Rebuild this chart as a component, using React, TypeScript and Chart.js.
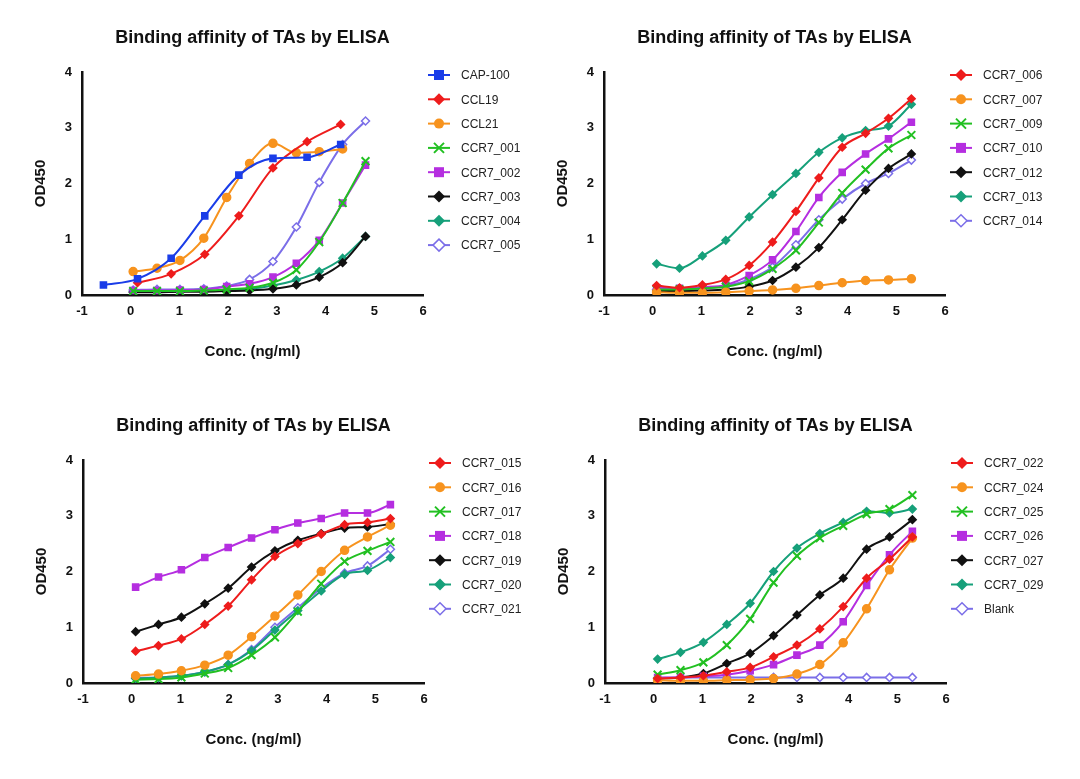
import React, { useEffect, useRef } from "react";
import { Chart, registerables } from "chart.js";
Chart.register(...registerables);

const X1A = [-0.56, 0.14, 0.83, 1.52, 2.22, 2.92, 3.62, 4.31];
const X1B = [0.14, 0.83, 1.52, 2.22, 2.92, 3.62, 4.31];
const X1C = [0.05, 0.54, 1.01, 1.5, 1.97, 2.44, 2.92, 3.4, 3.87, 4.35];
const X1D = [0.05, 0.54, 1.01, 1.5, 1.97, 2.44, 2.92, 3.4, 3.87, 4.35, 4.82];
const X12 = [0.08, 0.55, 1.02, 1.5, 1.98, 2.46, 2.94, 3.41, 3.89, 4.37, 4.84, 5.31];

const CAP100 = [0.18, 0.29, 0.66, 1.42, 2.15, 2.45, 2.47, 2.7];
const CCL19 = [0.22, 0.38, 0.73, 1.42, 2.28, 2.75, 3.06];
const CCL21 = [0.42, 0.48, 0.62, 1.02, 1.75, 2.36, 2.72, 2.55, 2.57, 2.62];
const C001 = [0.07, 0.07, 0.07, 0.08, 0.1, 0.13, 0.22, 0.45, 0.95, 1.65, 2.4];
const C002 = [0.08, 0.08, 0.09, 0.1, 0.15, 0.2, 0.32, 0.57, 0.98, 1.65, 2.33];
const C003 = [0.05, 0.05, 0.06, 0.06, 0.07, 0.08, 0.11, 0.18, 0.32, 0.58, 1.05];
const C004 = [0.06, 0.06, 0.07, 0.07, 0.09, 0.11, 0.17, 0.27, 0.42, 0.66, 1.05];
const C005 = [0.09, 0.1, 0.1, 0.11, 0.16, 0.28, 0.6, 1.22, 2.02, 2.7, 3.12];

const C006 = [0.17, 0.13, 0.18, 0.28, 0.53, 0.95, 1.5, 2.1, 2.65, 2.9, 3.17, 3.52];
const C007 = [0.05, 0.04, 0.04, 0.05, 0.07, 0.09, 0.12, 0.17, 0.22, 0.26, 0.27, 0.29];
const C009 = [0.1, 0.1, 0.12, 0.15, 0.25, 0.47, 0.8, 1.3, 1.83, 2.25, 2.63, 2.87];
const C010 = [0.13, 0.12, 0.14, 0.18, 0.35, 0.63, 1.14, 1.75, 2.2, 2.53, 2.8, 3.1];
const C012 = [0.07, 0.07, 0.08, 0.1, 0.15, 0.26, 0.5, 0.85, 1.35, 1.88, 2.27, 2.53];
const C013 = [0.56, 0.48, 0.7, 0.98, 1.4, 1.8, 2.18, 2.56, 2.82, 2.95, 3.03, 3.42];
const C014 = [0.1, 0.1, 0.12, 0.16, 0.28, 0.5, 0.9, 1.35, 1.72, 2.0, 2.18, 2.42];

const C015 = [0.57, 0.67, 0.79, 1.05, 1.38, 1.85, 2.27, 2.5, 2.67, 2.84, 2.88, 2.95];
const C016 = [0.13, 0.16, 0.22, 0.32, 0.5, 0.83, 1.2, 1.58, 2.0, 2.38, 2.62, 2.83];
const C017 = [0.06, 0.07, 0.1, 0.17, 0.27, 0.5, 0.82, 1.28, 1.78, 2.18, 2.37, 2.53];
const C018 = [1.72, 1.9, 2.03, 2.25, 2.43, 2.6, 2.75, 2.87, 2.95, 3.05, 3.05, 3.2];
const C019 = [0.92, 1.05, 1.18, 1.42, 1.7, 2.08, 2.37, 2.56, 2.68, 2.78, 2.8, 2.85];
const C020 = [0.08, 0.1, 0.13, 0.2, 0.33, 0.58, 0.95, 1.3, 1.65, 1.95, 2.02, 2.25];
const C021 = [0.09, 0.1, 0.13, 0.2, 0.33, 0.6, 1.0, 1.35, 1.7, 1.97, 2.1, 2.4];

const C022 = [0.08, 0.1, 0.13, 0.2, 0.28, 0.47, 0.68, 0.97, 1.37, 1.88, 2.22, 2.62];
const C024 = [0.05, 0.04, 0.04, 0.05, 0.06, 0.08, 0.16, 0.33, 0.72, 1.33, 2.03, 2.6];
const C025 = [0.15, 0.23, 0.37, 0.68, 1.15, 1.8, 2.28, 2.6, 2.82, 3.03, 3.12, 3.37];
const C026 = [0.1, 0.1, 0.12, 0.15, 0.22, 0.33, 0.5, 0.68, 1.1, 1.75, 2.3, 2.72];
const C027 = [0.08, 0.1, 0.17, 0.35, 0.53, 0.85, 1.22, 1.58, 1.88, 2.4, 2.62, 2.93];
const C029 = [0.43, 0.55, 0.73, 1.05, 1.43, 2.0, 2.42, 2.68, 2.88, 3.08, 3.05, 3.12];
const BLANK = [0.09, 0.1, 0.1, 0.1, 0.1, 0.1, 0.1, 0.1, 0.1, 0.1, 0.1, 0.1];

const X_TICKS = [-1, 0, 1, 2, 3, 4, 5, 6];
const Y_TICKS = [0, 1, 2, 3, 4];
const TITLE = "Binding affinity of TAs by ELISA";

const BLUE = "#1a3de8", RED = "#ee1c1c", ORANGE = "#f7931e", GREEN = "#22c022",
  PURPLE = "#b52ee0", BLACK = "#111111", TEAL = "#16a07a", LAV = "#7b6ee8";

type S = { label: string; x: number[]; y: number[]; color: string; m: string };

const PANELS: { left: number; top: number; series: S[] }[] = [
  { left: 0, top: 0, series: [
    { label: "CAP-100", x: X1A, y: CAP100, color: BLUE, m: "square" },
    { label: "CCL19", x: X1B, y: CCL19, color: RED, m: "diamond" },
    { label: "CCL21", x: X1C, y: CCL21, color: ORANGE, m: "circle" },
    { label: "CCR7_001", x: X1D, y: C001, color: GREEN, m: "x" },
    { label: "CCR7_002", x: X1D, y: C002, color: PURPLE, m: "square" },
    { label: "CCR7_003", x: X1D, y: C003, color: BLACK, m: "diamond" },
    { label: "CCR7_004", x: X1D, y: C004, color: TEAL, m: "diamond" },
    { label: "CCR7_005", x: X1D, y: C005, color: LAV, m: "open" },
  ] },
  { left: 522, top: 0, series: [
    { label: "CCR7_006", x: X12, y: C006, color: RED, m: "diamond" },
    { label: "CCR7_007", x: X12, y: C007, color: ORANGE, m: "circle" },
    { label: "CCR7_009", x: X12, y: C009, color: GREEN, m: "x" },
    { label: "CCR7_010", x: X12, y: C010, color: PURPLE, m: "square" },
    { label: "CCR7_012", x: X12, y: C012, color: BLACK, m: "diamond" },
    { label: "CCR7_013", x: X12, y: C013, color: TEAL, m: "diamond" },
    { label: "CCR7_014", x: X12, y: C014, color: LAV, m: "open" },
  ] },
  { left: 1, top: 388, series: [
    { label: "CCR7_015", x: X12, y: C015, color: RED, m: "diamond" },
    { label: "CCR7_016", x: X12, y: C016, color: ORANGE, m: "circle" },
    { label: "CCR7_017", x: X12, y: C017, color: GREEN, m: "x" },
    { label: "CCR7_018", x: X12, y: C018, color: PURPLE, m: "square" },
    { label: "CCR7_019", x: X12, y: C019, color: BLACK, m: "diamond" },
    { label: "CCR7_020", x: X12, y: C020, color: TEAL, m: "diamond" },
    { label: "CCR7_021", x: X12, y: C021, color: LAV, m: "open" },
  ] },
  { left: 523, top: 388, series: [
    { label: "CCR7_022", x: X12, y: C022, color: RED, m: "diamond" },
    { label: "CCR7_024", x: X12, y: C024, color: ORANGE, m: "circle" },
    { label: "CCR7_025", x: X12, y: C025, color: GREEN, m: "x" },
    { label: "CCR7_026", x: X12, y: C026, color: PURPLE, m: "square" },
    { label: "CCR7_027", x: X12, y: C027, color: BLACK, m: "diamond" },
    { label: "CCR7_029", x: X12, y: C029, color: TEAL, m: "diamond" },
    { label: "Blank", x: X12, y: BLANK, color: LAV, m: "open" },
  ] },
];

const FONT = "'Liberation Sans', Arial, sans-serif";

function styleOf(m: string) {
  if (m === "square") return { ps: "rect", r: 4.3 };
  if (m === "diamond") return { ps: "rectRot", r: 3.8 };
  if (m === "circle") return { ps: "circle", r: 4 };
  if (m === "x") return { ps: "crossRot", r: 5.5 };
  return { ps: "rectRot", r: 4 };
}

function drawMarker(ctx: CanvasRenderingContext2D, m: string, x: number, y: number, color: string) {
  ctx.save();
  ctx.fillStyle = color; ctx.strokeStyle = color; ctx.lineWidth = 2;
  ctx.beginPath();
  if (m === "square") { ctx.rect(x - 5, y - 5, 10, 10); ctx.fill(); }
  else if (m === "circle") { ctx.arc(x, y, 5, 0, Math.PI * 2); ctx.fill(); }
  else if (m === "x") { ctx.moveTo(x - 5, y - 5); ctx.lineTo(x + 5, y + 5); ctx.moveTo(x + 5, y - 5); ctx.lineTo(x - 5, y + 5); ctx.stroke(); }
  else {
    ctx.moveTo(x, y - 6); ctx.lineTo(x + 6, y); ctx.lineTo(x, y + 6); ctx.lineTo(x - 6, y); ctx.closePath();
    if (m === "open") { ctx.fillStyle = "#fff"; ctx.fill(); ctx.lineWidth = 1.5; ctx.stroke(); } else ctx.fill();
  }
  ctx.restore();
}

const decor = {
  id: "decor",
  afterDraw(chart: any) {
    const { ctx, chartArea } = chart;
    const series: S[] = chart.options.plugins.decor.series;
    ctx.save();
    ctx.fillStyle = "#111";
    ctx.font = `bold 18px ${FONT}`;
    ctx.textAlign = "center"; ctx.textBaseline = "middle";
    ctx.fillText(TITLE, (chartArea.left + chartArea.right) / 2, 38);
    ctx.font = `12px ${FONT}`;
    ctx.textAlign = "left";
    series.forEach((s, i) => {
      const y = chartArea.top + 3 + i * 24.3;
      const x0 = chartArea.right + 5;
      ctx.strokeStyle = s.color; ctx.lineWidth = 2;
      ctx.beginPath(); ctx.moveTo(x0, y); ctx.lineTo(x0 + 22, y); ctx.stroke();
      drawMarker(ctx, s.m, x0 + 11, y, s.color);
      ctx.fillStyle = "#222";
      ctx.fillText(s.label, x0 + 33, y + 1);
    });
    ctx.restore();
  },
};

function Panel({ left, top, series }: { left: number; top: number; series: S[] }) {
  const ref = useRef<HTMLCanvasElement>(null);
  useEffect(() => {
    const datasets = series.map((s) => {
      const st = styleOf(s.m);
      return {
        label: s.label,
        data: s.x.map((x, i) => ({ x, y: s.y[i] })),
        borderColor: s.color,
        backgroundColor: s.m === "open" ? "#ffffff" : s.color,
        pointBorderColor: s.color,
        pointStyle: st.ps,
        pointRadius: st.r,
        pointBorderWidth: s.m === "x" ? 2 : 1.5,
        borderWidth: 2,
        showLine: true,
        cubicInterpolationMode: "monotone" as const,
      };
    });
    const chart = new Chart(ref.current!, {
      type: "scatter",
      data: { datasets },
      options: {
        animation: false,
        responsive: false,
        devicePixelRatio: 1,
        layout: { padding: { left: 28, right: 117, top: 72, bottom: 20 } },
        plugins: { legend: { display: false }, tooltip: { enabled: false }, decor: { series } } as any,
        scales: {
          x: {
            type: "linear", min: -1, max: 6,
            afterBuildTicks: (sc: any) => { sc.ticks = X_TICKS.map((v) => ({ value: v })); },
            afterFit: (sc: any) => { sc.height = 70; },
            grid: { display: false, drawTicks: true, tickLength: 7, tickWidth: 2.5, tickColor: "#111" } as any,
            border: { color: "#111", width: 2.5 },
            ticks: { color: "#111", font: { family: FONT, size: 13, weight: "bold" }, padding: 2 },
            title: { display: true, text: "Conc. (ng/ml)", color: "#111", font: { family: FONT, size: 15, weight: "bold" }, padding: { top: 8 } },
          },
          y: {
            type: "linear", min: 0, max: 4,
            afterBuildTicks: (sc: any) => { sc.ticks = Y_TICKS.map((v) => ({ value: v })); },
            afterFit: (sc: any) => { sc.width = 54; },
            grid: { display: false, drawTicks: true, tickLength: 7, tickWidth: 2.5, tickColor: "#111" } as any,
            border: { color: "#111", width: 2.5 },
            ticks: { color: "#111", font: { family: FONT, size: 13, weight: "bold" }, padding: 3 },
            title: { display: true, text: "OD450", color: "#111", font: { family: FONT, size: 15, weight: "bold" }, padding: { bottom: 2 } },
          },
        },
      },
      plugins: [decor],
    });
    return () => chart.destroy();
  }, []);
  return <canvas ref={ref} width={540} height={385} style={{ position: "absolute", left, top }} />;
}

export default function App() {
  return (
    <div style={{ position: "absolute", left: 0, top: 0, width: 1080, height: 779, background: "#fff" }}>
      {PANELS.map((p, i) => <Panel key={i} left={p.left} top={p.top} series={p.series} />)}
    </div>
  );
}
